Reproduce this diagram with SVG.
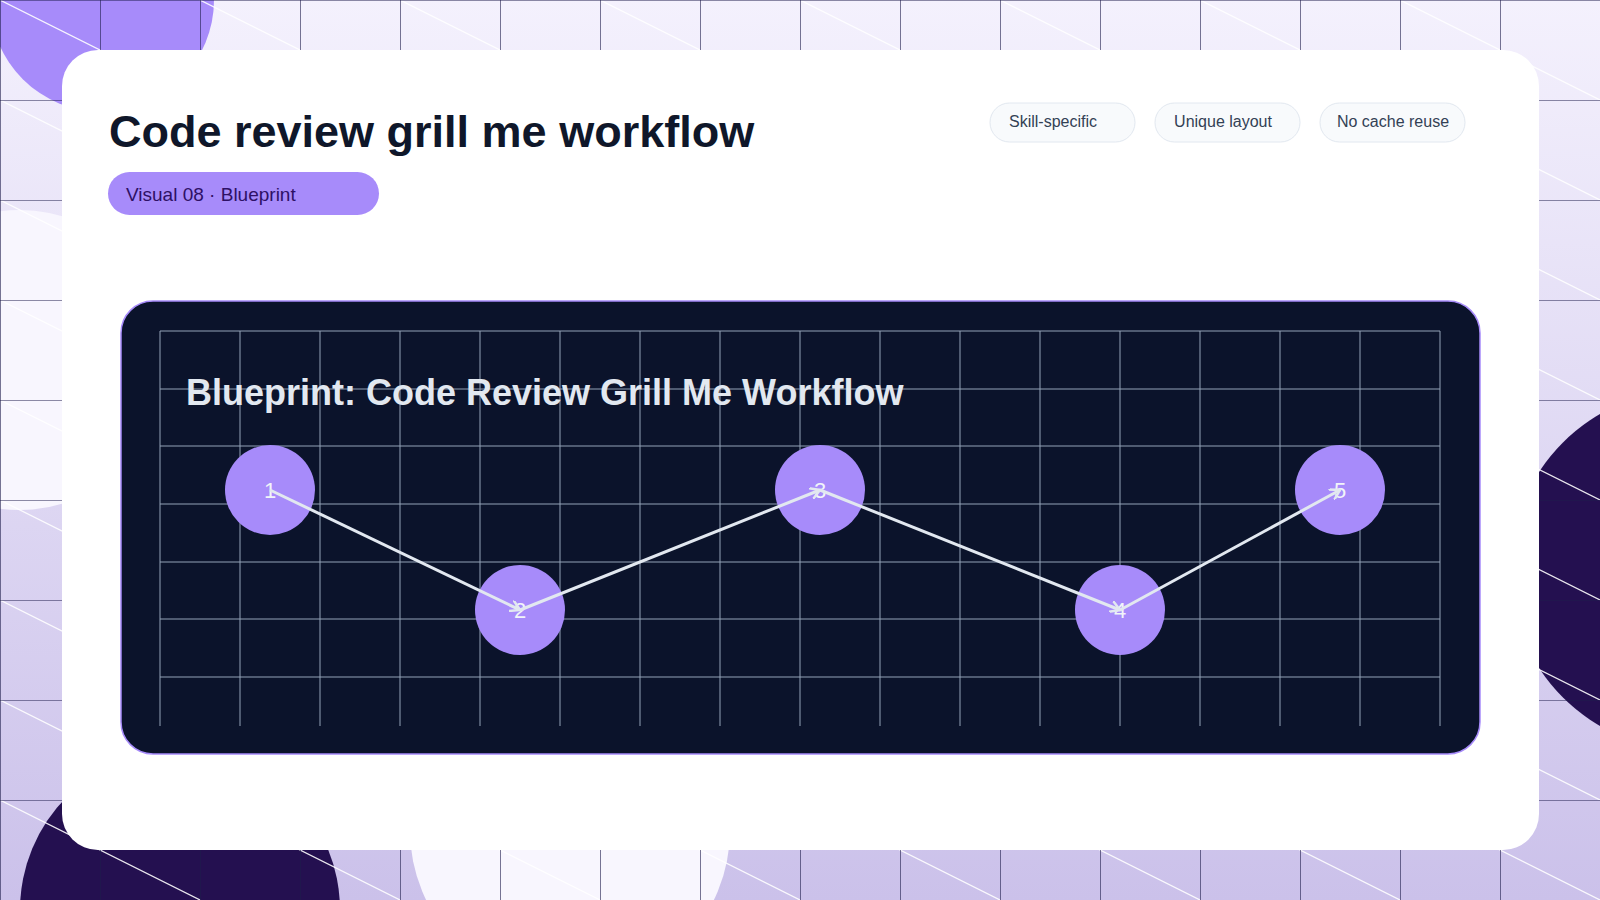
<svg xmlns="http://www.w3.org/2000/svg" width="1600" height="900" viewBox="0 0 1600 900">
<defs>
<linearGradient id="bg" x1="0" y1="0" x2="0" y2="1"><stop offset="0" stop-color="#f4f1fd"/><stop offset="1" stop-color="#cbc1ea"/></linearGradient>
<pattern id="grid" width="100" height="100" patternUnits="userSpaceOnUse"><path d="M0 0H100M0 0V100" fill="none" stroke="#1e1b4b" stroke-width="1.2"/></pattern>
<pattern id="diag" width="200" height="100" patternUnits="userSpaceOnUse"><path d="M0 0L200 100M-200 0L0 100M200 0L400 100" stroke="#ffffff" stroke-width="1.2" opacity="0.9"/></pattern>
<marker id="arr" markerWidth="12" markerHeight="12" refX="10" refY="6" orient="auto" markerUnits="userSpaceOnUse"><path d="M0 0L10 6L0 12" fill="none" stroke="#e2e8f0" stroke-width="2.5"/></marker>
<style>
.tag rect{fill:#f8fafc;stroke:#e2e8f0;stroke-width:1}
.tag text{font-family:"Liberation Sans",Arial,sans-serif;font-size:16px;fill:#334155;text-anchor:middle}
.node circle{fill:#a78bfa}
.node text{font-family:"Liberation Sans",Arial,sans-serif;font-size:22px;fill:#f1f5f9;text-anchor:middle}
.gl{stroke:#94a3b8;stroke-width:1}
</style>
</defs>
<rect width="1600" height="900" fill="url(#bg)"/>
<circle cx="102" cy="0" r="112" fill="#a78bfa"/>
<circle cx="20" cy="360" r="150" fill="#f8f6fe"/>
<circle cx="1690" cy="570" r="180" fill="#241050"/>
<circle cx="180" cy="910" r="160" fill="#241050"/>
<circle cx="570" cy="830" r="160" fill="#f8f6fe"/>
<rect width="1600" height="900" fill="url(#diag)"/>
<rect width="1600" height="900" fill="url(#grid)"/>
<rect x="62" y="50" width="1477" height="800" rx="36" fill="#ffffff"/>
<text x="109" y="147" font-family="Liberation Sans,Arial,sans-serif" font-size="45" font-weight="bold" fill="#0f172a">Code review grill me workflow</text>
<rect x="108" y="172" width="271" height="43" rx="21.5" fill="#a78bfa"/>
<text x="126" y="201" font-family="Liberation Sans,Arial,sans-serif" font-size="19" fill="#2e1065">Visual 08 · Blueprint</text>
<g id="tag1" class="tag"><rect x="990" y="103" width="145" height="39" rx="19.5"/><text x="1053" y="127">Skill-specific</text></g>
<g id="tag2" class="tag"><rect x="1155" y="103" width="145" height="39" rx="19.5"/><text x="1223" y="127">Unique layout</text></g>
<g id="tag3" class="tag"><rect x="1320" y="103" width="145" height="39" rx="19.5"/><text x="1393" y="127">No cache reuse</text></g>
<rect x="121" y="301" width="1359" height="453" rx="32" fill="#0b132b" stroke="#a78bfa" stroke-width="1.5"/>
<g id="panelgrid">
<path class="gl" d="M160 331V726M240 331V726M320 331V726M400 331V726M480 331V726M560 331V726M640 331V726M720 331V726M800 331V726M880 331V726M960 331V726M1040 331V726M1120 331V726M1200 331V726M1280 331V726M1360 331V726M1440 331V726"/>
<path class="gl" d="M160 331H1440M160 389H1440M160 446H1440M160 504H1440M160 562H1440M160 619H1440M160 677H1440"/>
</g>
<text x="186" y="405" font-family="Liberation Sans,Arial,sans-serif" font-size="36" font-weight="bold" fill="#e2e8f0">Blueprint: Code Review Grill Me Workflow</text>
<g id="n1" class="node"><circle cx="270" cy="490" r="45"/><text x="270" y="498">1</text></g>
<g id="n2" class="node"><circle cx="520" cy="610" r="45"/><text x="520" y="618">2</text></g>
<g id="n3" class="node"><circle cx="820" cy="490" r="45"/><text x="820" y="498">3</text></g>
<g id="n4" class="node"><circle cx="1120" cy="610" r="45"/><text x="1120" y="618">4</text></g>
<g id="n5" class="node"><circle cx="1340" cy="490" r="45"/><text x="1340" y="498">5</text></g>
<g id="connectors" stroke="#e2e8f0" stroke-width="3" fill="none" marker-end="url(#arr)">
<line x1="270" y1="490" x2="520" y2="610"/>
<line x1="520" y1="610" x2="820" y2="490"/>
<line x1="820" y1="490" x2="1120" y2="610"/>
<line x1="1120" y1="610" x2="1340" y2="490"/>
</g>
</svg>
